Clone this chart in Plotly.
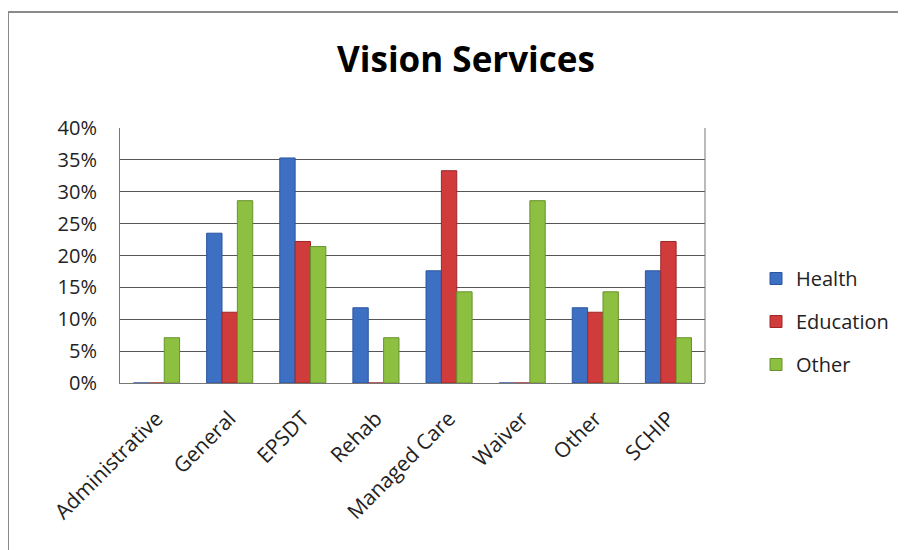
import plotly.graph_objects as go

categories = ["Administrative", "General", "EPSDT", "Rehab", "Managed Care", "Waiver", "Other", "SCHIP"]
health = [0.0, 0.235, 0.353, 0.118, 0.176, 0.0, 0.118, 0.176]
education = [0.0, 0.111, 0.222, 0.0, 0.333, 0.0, 0.111, 0.222]
other = [0.071, 0.286, 0.214, 0.071, 0.143, 0.286, 0.143, 0.071]
y_ticks = [0, 0.05, 0.10, 0.15, 0.20, 0.25, 0.30, 0.35, 0.40]
y_tick_labels = ["0%", "5%", "10%", "15%", "20%", "25%", "30%", "35%", "40%"]

series = [
    ("Health", health, "#3D70C2", "#2A55A0"),
    ("Education", education, "#D03B3B", "#9E2828"),
    ("Other", other, "#8DBF41", "#67932A"),
]

FONT = "Open Sans, Liberation Sans, sans-serif"

fig = go.Figure()
for name, vals, col, line in series:
    fig.add_trace(go.Bar(
        name=name, x=categories, y=vals, legendgroup=name,
        marker=dict(color=col, line=dict(color=line, width=1)),
    ))

# page body has an 8px margin, so figure coordinates are offset by 8px
OFF = 8
W, H = 906, 550
L, R, T, B = 120 - OFF, 201 + OFF, 128 - OFF, 167 + OFF
pw = W - L - R
ph = H - T - B

def px_x(p):
    return (p - OFF - L) / pw

def px_y(p):
    return (H - B - (p - OFF)) / ph

fig.update_layout(
    width=W, height=H,
    margin=dict(l=L, r=R, t=T, b=B),
    paper_bgcolor="white", plot_bgcolor="white",
    barmode="group", bargap=0.37, bargroupgap=0.0,
    font=dict(family=FONT, size=19, color="#222"),
    title=dict(text="<b>Vision Services</b>", x=(466 - OFF) / W, xanchor="center", xref="container",
               y=1 - (60 - OFF) / H, yanchor="middle", yref="container",
               font=dict(size=35, color="#000", family=FONT)),
    showlegend=True,
    legend=dict(x=px_x(756), xanchor="left", y=px_y(259), yanchor="top",
                font=dict(size=20, color="#222"), tracegroupgap=14,
                itemwidth=30, bgcolor="rgba(0,0,0,0)"),
    xaxis=dict(tickangle=-45, showgrid=False, showline=True, linecolor="#777",
               linewidth=1, ticks="", ticklabelstandoff=14,
               tickfont=dict(size=21, color="#222")),
    yaxis=dict(range=[0, 0.4], tickvals=y_ticks, ticktext=y_tick_labels,
               showgrid=True, gridcolor="#555555", gridwidth=1,
               showline=True, linecolor="#777", zeroline=False,
               ticks="", ticklabelstandoff=18,
               tickfont=dict(size=20, color="#222")),
    shapes=[
        dict(type="rect", xref="paper", yref="paper",
             x0=px_x(8), x1=px_x(930), y0=px_y(12), y1=px_y(580),
             line=dict(color="#8a8a8a", width=2), fillcolor="rgba(0,0,0,0)", layer="below"),
        dict(type="line", xref="paper", yref="paper", x0=1, x1=1, y0=0, y1=1,
             line=dict(color="#777", width=1)),
    ],
)

fig.write_html("out.html")
